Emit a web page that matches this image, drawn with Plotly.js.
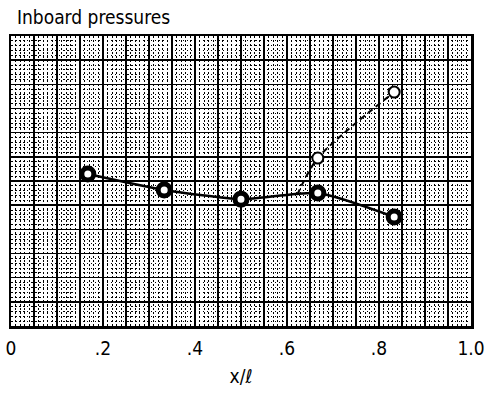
<!DOCTYPE html>
<html>
<head>
<meta charset="utf-8">
<script src="https://cdn.plot.ly/plotly-3.0.1.min.js"></script>
<style>html,body{margin:0;padding:0;background:#fff}#chart{width:499px;height:394px}</style>
</head>
<body>
<div id="chart"></div>
<script>
// Solid series (filled markers)
const solidX = [0.167, 0.333, 0.5, 0.667, 0.833];
const solidY = [6.29, 5.63, 5.25, 5.50, 4.51];
// Dashed series: starts on the solid curve, open markers on last two points
const dashedX = [0.622, 0.667, 0.833];
const dashedY = [5.42, 6.95, 9.68];
const tickVals = [0, 0.2, 0.4, 0.6, 0.8, 1.0];
const tickText = ['0', '.2', '.4', '.6', '.8', '1.0'];

const FONT = '"Liberation Sans Narrow", "DejaVu Sans Condensed", sans-serif';

const traces = [
  {
    x: [0, 1], y: [0, 0], xaxis: 'x2', yaxis: 'y', mode: 'lines',
    line: {width: 0, color: 'rgba(0,0,0,0)'}, hoverinfo: 'skip', showlegend: false
  },
  {
    x: dashedX, y: dashedY, mode: 'lines', type: 'scatter',
    line: {color: '#000', width: 2, dash: '6px,4px', shape: 'spline', smoothing: 0.8},
    hoverinfo: 'skip', showlegend: false
  },
  {
    x: dashedX.slice(1), y: dashedY.slice(1), mode: 'markers', type: 'scatter',
    marker: {symbol: 'circle', size: 11, color: '#fff', line: {color: '#000', width: 2}},
    showlegend: false
  },
  {
    x: solidX, y: solidY, mode: 'lines+markers', type: 'scatter',
    line: {color: '#000', width: 2.5, shape: 'spline', smoothing: 0.6},
    marker: {symbol: 'circle', size: 12, color: '#fff', line: {color: '#000', width: 5}},
    showlegend: false
  }
];

const minorGrid = {showgrid: true, gridcolor: '#000', griddash: '1.5px,2.5px', gridwidth: 1};

const layout = {
  width: 499, height: 394,
  margin: {l: 11, r: 28, t: 36, b: 68},
  paper_bgcolor: '#fff', plot_bgcolor: '#fff',
  showlegend: false,
  font: {family: FONT, color: '#000', size: 19},
  title: {text: 'Inboard pressures', x: 0.034, xanchor: 'left', y: 0.955, yanchor: 'middle',
          font: {family: FONT, size: 19, color: '#000'}},
  xaxis: {
    range: [0, 1], tickmode: 'array', tickvals: tickVals, ticktext: tickText,
    showgrid: false,
    showline: true, linecolor: '#000', linewidth: 2.5, mirror: true,
    ticks: '', ticklabelstandoff: 4, zeroline: false,
    tickfont: {family: FONT, size: 19, color: '#000'},
    title: {text: 'x/ℓ', standoff: 12, font: {family: FONT, size: 19, color: '#000'}}
  },
  xaxis2: {
    overlaying: 'x', range: [0, 1], dtick: 0.05, tick0: 0,
    showgrid: true, gridcolor: '#000', gridwidth: 1.5,
    minor: Object.assign({dtick: 0.01}, minorGrid),
    showticklabels: false, ticks: '', zeroline: false, showline: false
  },
  yaxis: {
    range: [0, 12], dtick: 1, tick0: 0,
    showgrid: true, gridcolor: '#000', gridwidth: 1.5,
    minor: Object.assign({dtick: 0.2}, minorGrid),
    showline: true, linecolor: '#000', linewidth: 2.5, mirror: true,
    showticklabels: false, ticks: '', zeroline: false
  }
};

Plotly.newPlot('chart', traces, layout, {staticPlot: true, displayModeBar: false});
</script>
</body>
</html>
